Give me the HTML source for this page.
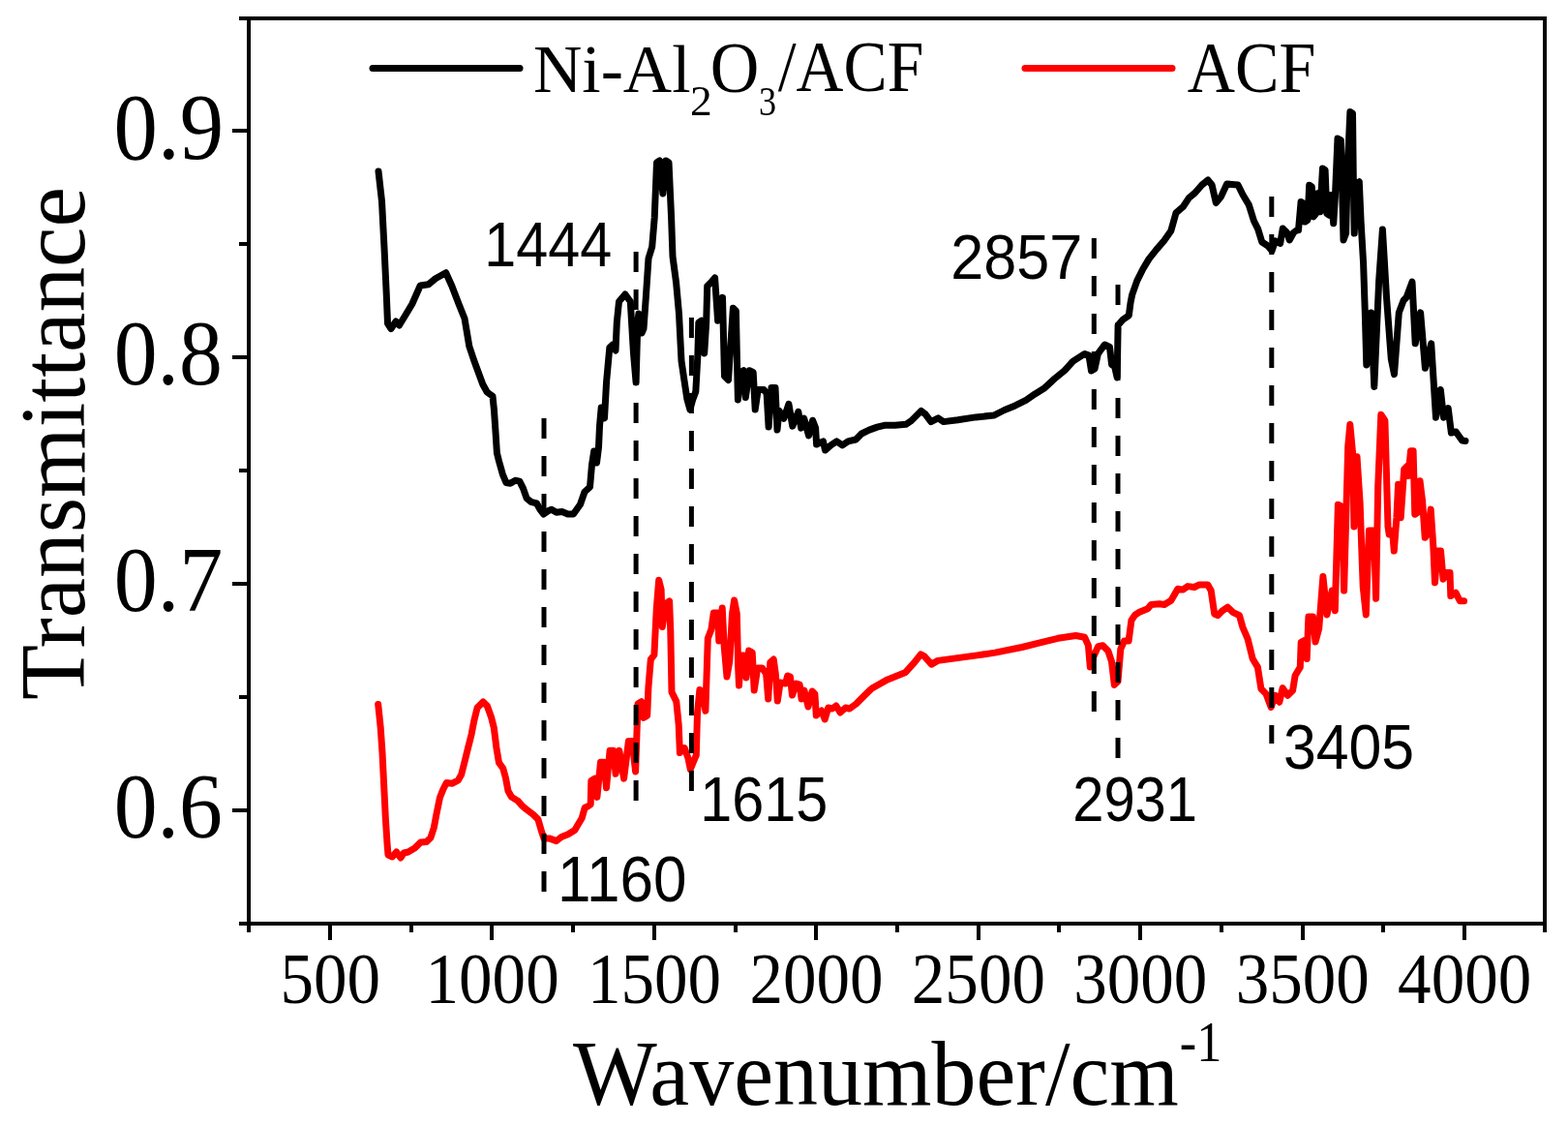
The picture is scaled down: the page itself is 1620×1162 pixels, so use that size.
<!DOCTYPE html>
<html><head><meta charset="utf-8"><title>FTIR Transmittance</title>
<style>html,body{margin:0;padding:0;background:#fff;overflow:hidden;}svg{display:block;}</style>
</head><body>
<svg width="1620" height="1162" viewBox="0 0 1620 1162"><rect x="257" y="19" width="1339" height="935" fill="none" stroke="#000" stroke-width="4" shape-rendering="crispEdges"/><path d="M240 135H257M240 369H257M240 603H257M240 837H257M247 19H257M247 252H257M247 486H257M247 720H257M247 954H257M341.0 954V971M508.4 954V971M675.9 954V971M843.3 954V971M1010.7 954V971M1178.1 954V971M1345.6 954V971M1513.0 954V971M257.0 954V963M424.7 954V963M592.1 954V963M759.6 954V963M927.0 954V963M1094.4 954V963M1261.9 954V963M1429.3 954V963M1596.0 954V963" stroke="#000" stroke-width="4" fill="none" shape-rendering="crispEdges"/><polyline points="391,177 394.5,208 397,256 399.3,305 400.5,334 404,339.5 409,332 412.5,336 418.6,326 425.8,314 434.2,295 442.7,293.7 449.9,287.7 460.7,281.7 466.7,295 474,314 480,329 484.8,357.6 489.6,372 492.9,381 498.8,397 503.2,405 509,409.3 510.5,423.9 512,445.9 513.4,467.8 515.6,476.6 519.3,489.8 522.9,498.5 527.3,499.3 532.4,496.3 536.8,497.1 540.5,504.4 544.1,514.6 548.5,518.3 554.4,519.8 558,526.3 561.7,531 566.1,527.8 569.8,526.3 574.9,529.3 580.7,528.5 586.6,531 592.4,531 599.5,521 604,508 609.5,503 611.5,480 613.7,466 616.5,478 618.5,462 619.5,440 621.2,421 624.5,432 626.6,394 629.8,359 633,356 636,362 637.3,333 639.5,311.5 645.9,304 651.3,311.5 654.5,365 657.1,395 658.8,333 659.9,324 663.1,344 665,339.4 667.5,304.5 670,267 673.7,255 676.2,225 678.5,168 681.5,166 684.9,200 688,166 691,168 693.6,225 695,265 698.6,292 701.5,324 704,372.8 706.9,392.6 709.9,412.4 712.9,423 715.8,412.4 718.8,404.5 720.8,368.8 721.8,333.2 724.8,331.2 727.7,364.9 729.7,333.2 730.7,295.5 734.7,291.6 738.6,287 741.6,331.2 746.5,307.4 748.5,388.6 752.5,392.6 757.4,318.3 760.4,321.3 761.4,368.8 762.4,413 765.3,384.7 768.3,382.7 770.3,410.4 774.3,382.7 778.2,384.7 780.2,423 783.2,402.5 789.1,402.5 792.1,406.4 794.1,441 797,400.5 801,400.5 803,444 805,424.3 809.9,432.2 814.9,417.3 818.8,440.1 824.8,425.3 827.7,442.1 830.7,432.2 835.6,450 839.6,434.2 842.6,442.1 843.6,459 850.5,455.9 852.5,465 858.4,459.9 864.4,455.9 870.3,459.9 876.2,455.9 884.2,454 890.1,448 898,444.1 906.3,441.1 913.7,439.3 924.8,439.3 935.9,438.3 941.5,434.6 951.7,424.4 956.3,428.1 961.9,435.6 969.3,431.9 974.8,435.6 989.6,433.7 1008.1,430.9 1026.7,429.1 1037.8,423.5 1048.9,418.9 1060,413.3 1069.3,406.9 1078.5,401.3 1089.6,391.1 1100,382.6 1108.6,373.1 1120.7,365.4 1125,367.1 1127.5,383 1131,381 1134.4,365.4 1141.3,356 1146.5,358.5 1148.6,376.5 1151.6,378.5 1154.2,390 1155.1,336.1 1160.2,330.1 1166.3,325.8 1168,312.9 1169.7,304.3 1174.7,290.1 1180.9,277.7 1187.1,267.4 1195.3,257.1 1202.6,248.8 1209.8,238.5 1215,219.9 1222.2,213.7 1228.4,204.4 1234.6,199.2 1241.8,191 1248,186 1252.1,191 1256.3,209.6 1261.4,203.4 1267.6,190 1279,191 1284.1,201.3 1290.3,211.6 1295.5,228.2 1299.6,236.4 1303.8,250 1310,254 1314.1,259 1317.5,248.8 1322.7,251.4 1325.3,236 1329.6,240.2 1332.2,248 1336.5,240.2 1339.9,237.7 1341.5,237.7 1344.1,208.4 1346.7,210.2 1348.4,229.1 1351,227.4 1352.7,191.2 1355.3,193 1357,223.9 1359.6,220.5 1361.3,199.8 1363.9,218.8 1366.5,174 1369.1,175.7 1370.8,220.5 1373.4,222.2 1375.1,201.5 1377.7,230.8 1379.4,203.3 1382,143 1385.4,144.8 1388,248 1390.6,241.1 1392.3,172.3 1394.9,115.5 1397.5,117.2 1398.3,186.1 1399.2,241.1 1401.8,189.5 1404.3,187.8 1406.1,229.1 1408.6,272.1 1410.3,322.9 1411.8,377 1416.6,322.9 1419.8,399.4 1424.6,291.1 1428.4,236.9 1432.5,307 1437.3,370.7 1440.5,386.6 1445.3,322.9 1450.1,310.2 1453.2,307 1459,291.1 1462.2,354.8 1467.6,322.9 1472.4,380.3 1478.7,354.8 1483.5,431.2 1488.3,402.5 1491.5,431.2 1496.2,421.7 1499.4,447.1 1504.2,446 1510.6,455 1514,455.5" fill="none" stroke="#000" stroke-width="7" stroke-linejoin="round" stroke-linecap="round"/><polyline points="390.7,727.5 393.2,751.7 395,777.5 396.7,811.9 398.4,846.3 400.1,872.2 401,883 405.3,885 409.6,880 413.9,886 417.3,881 421.7,880 428.5,876 434.6,870 440.6,869.5 444.9,865.3 448.3,855 450.9,841.2 454.4,824 457.8,815.4 461.3,808.5 467.3,809.3 473.3,805.9 476.7,799.9 480.2,786.1 483.6,772.3 487.1,758.5 489.7,744.8 493.1,731 499.1,725 503.4,729.3 507.7,741.3 510.3,751.7 512.9,772.3 515.5,787.8 519.8,793.8 522.4,803.3 525,817.1 528.4,823.1 535.3,827.4 539.6,832.6 543.9,836 550.8,841.2 555.9,846.3 559.4,858.4 562,866 568,866.1 574.9,868.6 580.1,864.4 586.9,861.8 593.8,857.5 597.3,851.5 601.2,845 604.2,834.3 607.2,833 610.2,830.9 610.8,806.5 614.5,804.1 616.9,823.4 620.5,787.2 624.1,787.2 626.5,813.7 630.1,775.2 633.7,775.2 636.1,799.3 639.8,775.2 644.6,804.1 649.4,765.5 653,765.5 656.6,796.9 659,727 662.7,724.6 665.1,741.4 668.7,739 669.9,710.1 672.3,681.2 675.9,676.4 678.3,628.2 680.7,599.3 683.1,608.9 684.3,647.5 688,623.4 691.6,621 692.8,652.3 694,714.9 698.8,724.6 701.2,748.7 702.4,777.6 707.2,772.8 710.8,782.4 713.3,794.5 719.3,780 720.5,736.6 722.9,712.5 726.5,714.9 728.9,734.2 731.3,659.5 734.9,649.9 737.3,633 741.4,633 742.8,662 746.2,628 748.3,669 751,699 753.8,683 756.5,634 758.6,620 761.3,634 762.7,690 763.5,708 765.5,677 768.9,677 771,700 773.7,672 777.2,674 779.2,713 782.7,690 787.5,690 791.6,696 793.7,722 795.8,684 799.2,681 801.3,696 803.3,724 806.1,705 811.6,706 813.7,698 816.4,699 818.5,718 822.6,706 826.1,707 828.1,722 830.9,713 835,730 839.1,714 841.9,717 843.3,739 848.8,734 852.2,743 855.7,731 859.8,732 863.9,729 868.1,736 873.6,731 877.7,732 884.6,727 891.5,720 899.7,712 902.2,710.2 917,701.9 935.6,694.4 943.9,685.2 951.3,675.9 955,677.8 962.4,686.1 968.9,682.4 981.9,680.6 1009.6,676.9 1028.1,674.1 1055.9,668.5 1074.4,663.9 1093,659.3 1111.5,656.5 1120.7,658.3 1124.4,666.7 1126.3,688.9 1130,677.8 1134.6,667.6 1139.3,666.7 1144.8,672.2 1148.5,683.3 1151.3,707.4 1155,703.7 1157.8,670.4 1161.5,662 1166.1,662 1168.9,640.7 1172.6,635.2 1177.2,632.3 1185.8,628.8 1189.3,624.5 1197.9,623.7 1203,624.5 1209.9,620.2 1216.8,608.2 1222,609.1 1227.1,605.6 1234,606.5 1239.2,603.9 1247.8,603.9 1251.2,609.9 1254.7,634 1258.1,635.7 1263.3,630.6 1268.4,627.1 1273.6,632.3 1280.5,635.7 1283.9,647.8 1289.1,659.8 1294.2,680.5 1299.4,689.1 1302.9,711.5 1308,716.6 1313.2,730.4 1317.5,718.3 1321.8,725.2 1325.2,710.6 1330.4,718.3 1335.6,713.2 1338.1,697.7 1343.3,689.1 1344.2,663.3 1347.6,661.5 1350.2,680.5 1351.9,637 1356.5,637 1359,663 1362.7,649.3 1366.9,595.6 1371,634.9 1376.2,610.1 1379.3,630.7 1382.4,521.2 1386.5,523.3 1388.6,610.1 1392.7,461.3 1394.8,438.6 1397.9,471.7 1398.9,544 1402,471.7 1405.1,519.2 1408.2,606 1411.3,634.9 1414.4,548.1 1419.5,548.1 1421.6,618.3 1423.7,502.6 1426.8,428.3 1430.9,434.5 1434,544 1435.2,551.9 1438.6,548.4 1440.3,569.1 1442.9,534.7 1444.6,500.2 1447.2,534.7 1450.7,484.8 1454.1,481.3 1455,491.6 1457.5,465.8 1460.1,465.8 1461.8,531.2 1464.4,529.5 1467,496.8 1469.6,517.5 1472.2,555.3 1474.8,551.9 1478.2,526.1 1480.8,563.9 1482.5,601.8 1485.1,569.1 1488.5,569.1 1491.1,598.3 1494.5,591.5 1498,591.5 1498.8,615.6 1504,612.1 1508.3,620.7 1512.6,620.7" fill="none" stroke="#f00" stroke-width="7" stroke-linejoin="round" stroke-linecap="round"/><path d="M562.0 432V922M657.1 260V828M714.4 328V818M1130.3 246V736M1155.0 294V785M1313.8 203V768" stroke="#000" stroke-width="5" stroke-dasharray="21 18" fill="none"/><path d="M385 70.5H537" stroke="#000" stroke-width="7" stroke-linecap="round"/><path d="M1059 70.5H1211" stroke="#f00" stroke-width="7" stroke-linecap="round"/><g transform="matrix(0.9761,0,0,1.0355,231.10,163.96)"><text x="0" y="0" text-anchor="end" font-family="'Liberation Serif','Times New Roman',serif" font-size="93">0.9</text></g><g transform="matrix(0.9651,0,0,1.0355,229.86,396.96)"><text x="0" y="0" text-anchor="end" font-family="'Liberation Serif','Times New Roman',serif" font-size="93">0.8</text></g><g transform="matrix(0.9673,0,0,1.0306,230.10,630.77)"><text x="0" y="0" text-anchor="end" font-family="'Liberation Serif','Times New Roman',serif" font-size="93">0.7</text></g><g transform="matrix(0.9655,0,0,1.0306,229.90,864.77)"><text x="0" y="0" text-anchor="end" font-family="'Liberation Serif','Times New Roman',serif" font-size="93">0.6</text></g><g transform="matrix(1.0161,0,0,1.0021,87.08,722.90)"><text x="0" y="0" transform="rotate(-90)" font-family="'Liberation Serif','Times New Roman',serif" font-size="93">Transmittance</text></g><g transform="matrix(0.9998,0,0,1.0312,591.90,1140.97)"><text x="0" y="0" font-family="'Liberation Serif','Times New Roman',serif" font-size="92">Wavenumber/cm</text></g><g transform="matrix(0.8705,0,0,0.9821,1218.86,1096.10)"><text x="0" y="0" font-family="'Liberation Serif','Times New Roman',serif" font-size="60">-1</text></g><g transform="matrix(1.0252,0,0,1.0362,550.95,94.60)"><text x="0" y="0" font-family="'Liberation Serif','Times New Roman',serif" font-size="68">Ni-Al</text></g><g transform="matrix(1.0111,0,0,0.9828,713.08,119.30)"><text x="0" y="0" font-family="'Liberation Serif','Times New Roman',serif" font-size="45">2</text></g><g transform="matrix(1.0302,0,0,1.0795,733.71,94.60)"><text x="0" y="0" font-family="'Liberation Serif','Times New Roman',serif" font-size="68">O</text></g><g transform="matrix(0.8053,0,0,0.9552,784.09,118.80)"><text x="0" y="0" font-family="'Liberation Serif','Times New Roman',serif" font-size="45">3</text></g><g transform="matrix(0.9960,0,0,1.0889,803.80,93.51)"><text x="0" y="0" font-family="'Liberation Serif','Times New Roman',serif" font-size="68">/ACF</text></g><g transform="matrix(1.0031,0,0,1.0932,1226.80,94.80)"><text x="0" y="0" font-family="'Liberation Serif','Times New Roman',serif" font-size="68">ACF</text></g><g transform="matrix(0.9259,0,0,1.0022,500.37,274.80)"><text x="0" y="0" font-family="'Liberation Sans',Arial,sans-serif" font-size="64">1444</text></g><g transform="matrix(0.9559,0,0,1.0244,982.13,288.00)"><text x="0" y="0" font-family="'Liberation Sans',Arial,sans-serif" font-size="64">2857</text></g><g transform="matrix(0.9692,0,0,1.0289,576.05,931.00)"><text x="0" y="0" font-family="'Liberation Sans',Arial,sans-serif" font-size="64">1160</text></g><g transform="matrix(0.9274,0,0,1.0244,723.26,848.00)"><text x="0" y="0" font-family="'Liberation Sans',Arial,sans-serif" font-size="64">1615</text></g><g transform="matrix(0.9051,0,0,1.0244,1108.18,848.00)"><text x="0" y="0" font-family="'Liberation Sans',Arial,sans-serif" font-size="64">2931</text></g><g transform="matrix(0.9496,0,0,1.0222,1325.95,793.90)"><text x="0" y="0" font-family="'Liberation Sans',Arial,sans-serif" font-size="64">3405</text></g><g transform="matrix(1.0159,0,0,1.0966,341.17,1036.00)"><text x="0" y="0" text-anchor="middle" font-family="'Liberation Serif','Times New Roman',serif" font-size="68">500</text></g><g transform="matrix(1.0159,0,0,1.0966,508.60,1036.00)"><text x="0" y="0" text-anchor="middle" font-family="'Liberation Serif','Times New Roman',serif" font-size="68">1000</text></g><g transform="matrix(1.0159,0,0,1.0966,676.03,1036.00)"><text x="0" y="0" text-anchor="middle" font-family="'Liberation Serif','Times New Roman',serif" font-size="68">1500</text></g><g transform="matrix(1.0159,0,0,1.0966,843.46,1036.00)"><text x="0" y="0" text-anchor="middle" font-family="'Liberation Serif','Times New Roman',serif" font-size="68">2000</text></g><g transform="matrix(1.0159,0,0,1.0966,1010.89,1036.00)"><text x="0" y="0" text-anchor="middle" font-family="'Liberation Serif','Times New Roman',serif" font-size="68">2500</text></g><g transform="matrix(1.0159,0,0,1.0966,1178.32,1036.00)"><text x="0" y="0" text-anchor="middle" font-family="'Liberation Serif','Times New Roman',serif" font-size="68">3000</text></g><g transform="matrix(1.0159,0,0,1.0966,1345.74,1036.00)"><text x="0" y="0" text-anchor="middle" font-family="'Liberation Serif','Times New Roman',serif" font-size="68">3500</text></g><g transform="matrix(1.0159,0,0,1.0966,1513.17,1036.00)"><text x="0" y="0" text-anchor="middle" font-family="'Liberation Serif','Times New Roman',serif" font-size="68">4000</text></g></svg>
</body></html>
